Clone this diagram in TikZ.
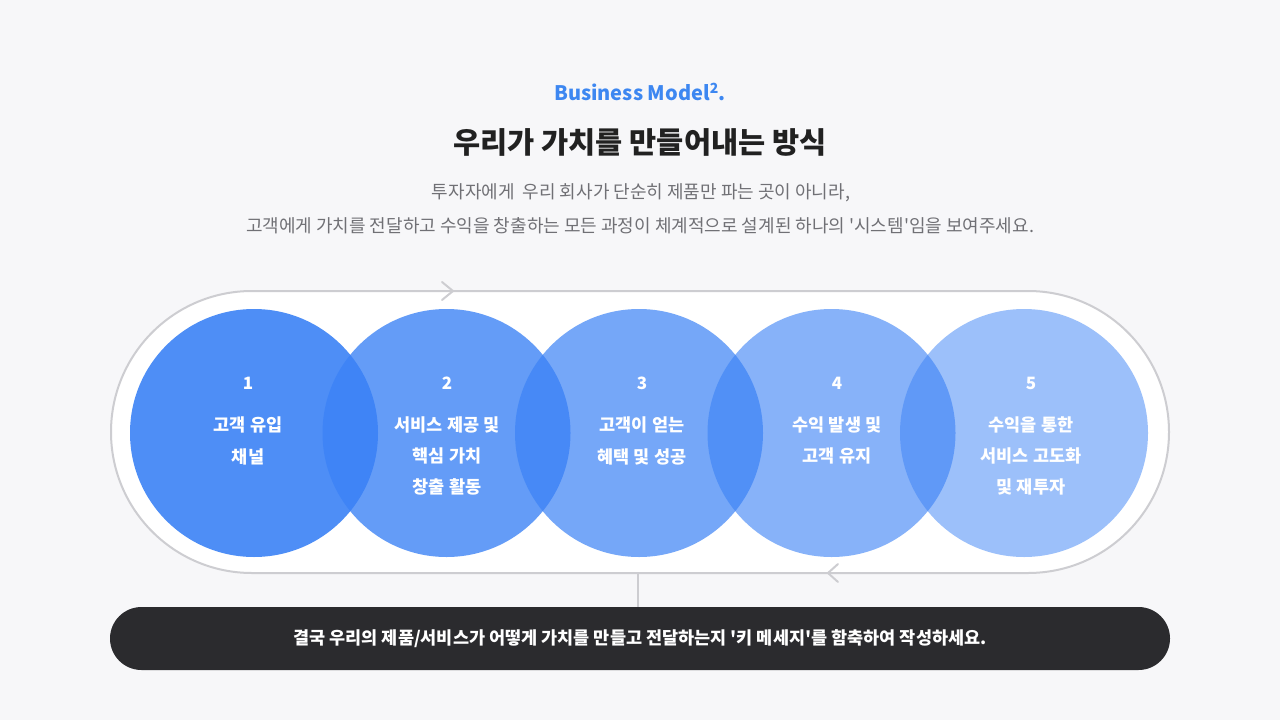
\documentclass[tikz,border=0pt]{standalone}
\usepackage{fontspec}
\setmainfont{Noto Sans CJK KR}[Ligatures=TeXOff]
\newcommand{\sq}{'}
\begin{document}
\begin{tikzpicture}[x=1pt,y=-1pt,
  ring/.style={draw=ringc,line width=2pt,fill=white},
  disc/.style={fill=bluec,draw=none},
  chev/.style={draw=ringc,line width=2pt,line cap=round,line join=round},
  num/.style={text=white,font=\fontsize{17}{17}\selectfont\bfseries},
  lab/.style={text=white,font=\fontsize{17.5}{17.5}\selectfont\bfseries},
]
\definecolor{bgc}{HTML}{F7F7F9}
\definecolor{ringc}{HTML}{CDCDD1}
\definecolor{bluec}{HTML}{3B82F6}
\definecolor{darkc}{HTML}{2B2B2E}
\definecolor{titlec}{HTML}{3D87F1}
\definecolor{subc}{HTML}{707075}
\useasboundingbox (0,0) rectangle (1280,720);
\fill[bgc] (0,0) rectangle (1280,720);

% headings
\node[text=titlec,font=\fontsize{20}{20}\selectfont\bfseries] (kicker) at (640,92) {Business Model\textsuperscript{2}.};
\node[text=black!87,font=\fontsize{29.5}{29.5}\selectfont\bfseries] (title) at (640,142) {우리가 가치를 만들어내는 방식};
\node[text=subc,font=\fontsize{18}{18}\selectfont] (sub1) at (641,193) {투자자에게\ \ 우리 회사가 단순히 제품만 파는 곳이 아니라,};
\node[text=subc,font=\fontsize{18}{18}\selectfont] (sub2) at (640,226) {고객에게 가치를 전달하고 수익을 창출하는 모든 과정이 체계적으로 설계된 하나의 \sq 시스템\sq 임을 보여주세요.};

% loop track
\draw[ring,rounded corners=141pt] (111,291) rectangle (1169,573);
\node[inner sep=0,minimum size=0] (trackbot) at (638,573) {};
\draw[chev] (442,282) -- (453,291) -- (442,300);
\draw[chev] (838,564) -- (828,573) -- (838,582);

% circles
\fill[disc,fill opacity=0.9]  (254,433) circle (124);
\fill[disc,fill opacity=0.79] (446.5,433) circle (124);
\fill[disc,fill opacity=0.70] (639,433) circle (124);
\fill[disc,fill opacity=0.61] (831.5,433) circle (124);
\fill[disc,fill opacity=0.50] (1024,433) circle (124);

% circle texts
\node[num] (n1) at (248,383) {1};
\node[lab] (a1) at (248,425) {고객 유입};
\node[lab] (b1) at (248,457) {채널};

\node[num] (n2) at (447,383) {2};
\node[lab] (a2) at (447,425) {서비스 제공 및};
\node[lab] (b2) at (447,456) {핵심 가치};
\node[lab] (c2) at (447,487) {창출 활동};

\node[num] (n3) at (642,383) {3};
\node[lab] (a3) at (642,425) {고객이 얻는};
\node[lab] (b3) at (642,457) {혜택 및 성공};

\node[num] (n4) at (837,383) {4};
\node[lab] (a4) at (837,425) {수익 발생 및};
\node[lab] (b4) at (837,456) {고객 유지};

\node[num] (n5) at (1031,383) {5};
\node[lab] (a5) at (1031,425) {수익을 통한};
\node[lab] (b5) at (1031,456) {서비스 고도화};
\node[lab] (c5) at (1031,487) {및 재투자};

% bottom message
\node[fill=darkc,rounded corners=31.5pt,minimum width=1060pt,minimum height=63pt,inner sep=0,
      text=white,font=\fontsize{17.5}{17.5}\selectfont\bfseries] (msg) at (640,638.5)
  {결국 우리의 제품/서비스가 어떻게 가치를 만들고 전달하는지 \sq 키 메세지\sq 를 함축하여 작성하세요.};
\draw[ringc,line width=1.5pt] (trackbot) -- (msg.north -| trackbot);
\end{tikzpicture}
\end{document}
